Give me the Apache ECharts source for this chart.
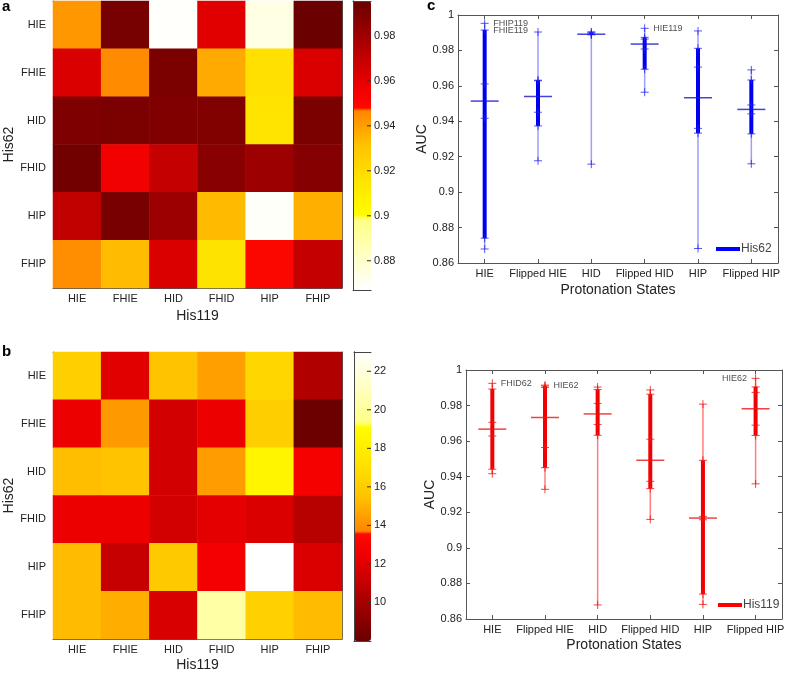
<!DOCTYPE html>
<html><head><meta charset="utf-8">
<script src="https://cdn.jsdelivr.net/npm/echarts@6/dist/echarts.min.js"></script>
<style>html,body{margin:0;padding:0;background:#fff}#chart{width:787px;height:673px}</style>
</head><body><div id="chart"></div>
<script>
// ---------- DATA ----------
const states = ['HIE', 'FHIE', 'HID', 'FHID', 'HIP', 'FHIP'];
const protStates = ['HIE', 'Flipped HIE', 'HID', 'Flipped HID', 'HIP', 'Flipped HIP'];

// Panel a: AUC, rows = His62 state, columns = His119 state (HIE..FHIP)
const auc_HIE62  = [0.9417, 0.9915, 0.8679, 0.9611, 0.8740, 0.9953];
const auc_FHIE62 = [0.9629, 0.9451, 0.9904, 0.9374, 0.9177, 0.9632];
const auc_HID62  = [0.9893, 0.9902, 0.9890, 0.9888, 0.9158, 0.9905];
const auc_FHID62 = [0.9925, 0.9564, 0.9694, 0.9864, 0.9808, 0.9874];
const auc_HIP62  = [0.9706, 0.9910, 0.9812, 0.9333, 0.8682, 0.9360];
const auc_FHIP62 = [0.9442, 0.9329, 0.9633, 0.9160, 0.9492, 0.9690];

// Panel b: rows = His62 state, columns = His119 state
const val_HIE62  = [16.2, 12.0, 15.5, 14.5, 16.5, 10.4];
const val_FHIE62 = [12.4, 14.3, 11.5, 12.4, 16.1, 8.1];
const val_HID62  = [15.4, 15.5, 11.5, 14.4, 18.5, 12.8];
const val_FHID62 = [12.35, 12.35, 11.5, 12.1, 11.8, 10.6];
const val_HIP62  = [15.3, 11.1, 15.8, 12.6, 23.0, 11.8];
const val_FHIP62 = [15.3, 14.9, 11.7, 20.3, 16.3, 15.3];

// colour bar ranges and tick labels
const rangeA = [0.867, 0.9955];
const ticksA = [0.88, 0.9, 0.92, 0.94, 0.96, 0.98];
const rangeB = [8, 23];
const ticksB = [10, 12, 14, 16, 18, 20, 22];
const aucAxis = { min: 0.86, max: 1, step: 0.02 };

// annotations: [row(His62), col(His119), text, side]
const notesC = [[0, 5, 'FHIP119'], [0, 1, 'FHIE119'], [3, 0, 'HIE119']];
const notesD = [[3, 0, 'FHID62', 'right'], [0, 1, 'HIE62', 'right'], [0, 5, 'HIE62', 'left']];

// ---------- BUILD ----------
const aucRows = [auc_HIE62, auc_FHIE62, auc_HID62, auc_FHID62, auc_HIP62, auc_FHIP62];
const valRows = [val_HIE62, val_FHIE62, val_HID62, val_FHID62, val_HIP62, val_FHIP62];
const heatA = [], heatB = [];
aucRows.forEach((r, i) => r.forEach((v, j) => heatA.push([j, i, v])));
valRows.forEach((r, i) => r.forEach((v, j) => heatB.push([j, i, v])));
const boxC = aucRows.map((r, i) => [i].concat(r));
const boxD = states.map((s, j) => [j].concat(aucRows.map(r => r[j])));

// colormap (dark -> white), hot-like segments
const cstops = [[0, [105, 0, 0]], [0.30, [240, 0, 0]], [0.374, [255, 8, 0]], [0.3755, [255, 130, 0]],
  [0.5, [255, 195, 0]], [0.62, [255, 228, 0]], [0.749, [255, 255, 0]], [0.7505, [255, 255, 130]], [1, [255, 255, 255]]];
function cmap(t) {
  for (let k = 1; k < cstops.length; k++) {
    if (t <= cstops[k][0]) {
      const a = cstops[k - 1], b = cstops[k];
      const f = (t - a[0]) / (b[0] - a[0]);
      const c = a[1].map((x, i) => Math.round(x + f * (b[1][i] - x)));
      return 'rgb(' + c.join(',') + ')';
    }
  }
  return 'rgb(255,255,255)';
}
const darkToLight = [];
for (let k = 0; k <= 400; k++) darkToLight.push(cmap(k / 400));
const lightToDark = darkToLight.slice().reverse();

const FONT = '"Liberation Sans", Arial, sans-serif';
const AX = '#555';
const TXT = '#222';

function prctile(sorted, p) {
  const n = sorted.length;
  const pos = n * p / 100 + 0.5;
  if (pos <= 1) return sorted[0];
  if (pos >= n) return sorted[n - 1];
  const lo = Math.floor(pos), f = pos - lo;
  return sorted[lo - 1] + f * (sorted[lo] - sorted[lo - 1]);
}
function boxRender(thick, thin, medCol, markCol) {
  return function (params, api) {
    const x = api.value(0);
    const vals = [];
    for (let k = 1; k <= 6; k++) vals.push(api.value(k));
    const s = vals.slice().sort((a, b) => a - b);
    const P = v => api.coord([x, v]);
    const cx = P(s[0])[0];
    const ch = [];
    ch.push({ type: 'line', shape: { x1: cx, y1: P(s[0])[1], x2: cx, y2: P(s[5])[1] }, style: { stroke: thin, lineWidth: 1.5 } });
    ch.push({ type: 'line', shape: { x1: cx, y1: P(prctile(s, 25))[1], x2: cx, y2: P(prctile(s, 75))[1] }, style: { stroke: thick, lineWidth: 4 } });
    const my = P(prctile(s, 50))[1];
    ch.push({ type: 'line', shape: { x1: cx - 14, y1: my, x2: cx + 14, y2: my }, style: { stroke: medCol, lineWidth: 1.5 } });
    s.forEach(v => {
      const y = P(v)[1];
      ch.push({ type: 'line', shape: { x1: cx - 4, y1: y, x2: cx + 4, y2: y }, style: { stroke: markCol, lineWidth: 1 } });
      ch.push({ type: 'line', shape: { x1: cx, y1: y - 4, x2: cx, y2: y + 4 }, style: { stroke: markCol, lineWidth: 1 } });
    });
    return { type: 'group', children: ch };
  };
}
// colour-bar tick marks at the bar's right edge, pointing inward
function cbTickRender(params, api) {
  const p = api.coord([1, api.value(0)]);
  return { type: 'line', shape: { x1: p[0] - 4, y1: p[1], x2: p[0], y2: p[1] }, style: { stroke: '#333', lineWidth: 1 } };
}

function catX(grid, data, pos, labels, name, gap) {
  return {
    type: 'category', gridIndex: grid, data: data, position: pos,
    axisLine: { show: true, lineStyle: { color: AX, width: 1 } },
    axisTick: { show: true, inside: true, alignWithLabel: true, length: 4, lineStyle: { color: AX } },
    axisLabel: { show: labels, fontSize: 11, color: TXT, fontFamily: FONT, margin: 5, interval: 0 },
    splitLine: { show: false },
    name: name || '', nameLocation: 'middle', nameGap: gap || 0,
    nameTextStyle: { fontSize: 14, color: TXT, fontFamily: FONT }
  };
}
function catY(grid, data, pos, labels, name, gap) {
  return {
    type: 'category', gridIndex: grid, data: data, position: pos, inverse: true,
    axisLine: { show: true, lineStyle: { color: AX, width: 1 } },
    axisTick: { show: true, inside: true, alignWithLabel: true, length: 4, lineStyle: { color: AX } },
    axisLabel: { show: labels, fontSize: 11, color: TXT, fontFamily: FONT, margin: 7, interval: 0 },
    splitLine: { show: false },
    name: name || '', nameLocation: 'middle', nameGap: gap || 0, nameRotate: 90,
    nameTextStyle: { fontSize: 14, color: TXT, fontFamily: FONT }
  };
}
function fmt(v) { return String(parseFloat((+v).toFixed(4))); }
function valY(grid, pos, labels, mn, mx, step, name, gap) {
  return {
    type: 'value', gridIndex: grid, position: pos, min: mn, max: mx, interval: step,
    axisLine: { show: true, lineStyle: { color: AX, width: 1 } },
    axisTick: { show: true, inside: true, length: 4, lineStyle: { color: AX } },
    axisLabel: { show: labels, fontSize: 11, color: TXT, fontFamily: FONT, margin: 4, formatter: fmt, showMinLabel: true, showMaxLabel: true },
    splitLine: { show: false },
    name: name || '', nameLocation: 'middle', nameGap: gap || 0, nameRotate: 90,
    nameTextStyle: { fontSize: 14, color: TXT, fontFamily: FONT }
  };
}
function cbX(grid, pos) {
  return { type: 'value', gridIndex: grid, position: pos, min: 0, max: 1, z: 10,
    axisLine: { show: true, lineStyle: { color: '#444' } }, axisTick: { show: false }, axisLabel: { show: false }, splitLine: { show: false } };
}
function cbYLabels(grid, range, ticks) {
  return { type: 'value', gridIndex: grid, position: 'right', min: range[0], max: range[1], z: 10,
    axisLine: { show: true, lineStyle: { color: '#444' } },
    axisTick: { show: false },
    axisLabel: { show: true, customValues: ticks, fontSize: 11, color: TXT, fontFamily: FONT, margin: 3, formatter: fmt },
    splitLine: { show: false } };
}
function cbYFrame(grid, range) {
  return { type: 'value', gridIndex: grid, position: 'left', min: range[0], max: range[1], z: 10,
    axisLine: { show: true, lineStyle: { color: '#444' } },
    axisTick: { show: false }, axisLabel: { show: false }, splitLine: { show: false } };
}

const grids = [
  { left: 53, top: 1, width: 289, height: 287 },      // 0 heatmap a
  { left: 353, top: 1, width: 18, height: 289 },      // 1 colorbar a
  { left: 53, top: 352, width: 289, height: 289 },    // 2 heatmap b
  { left: 354, top: 352, width: 17, height: 289 },    // 3 colorbar b
  { left: 458, top: 15, width: 320, height: 248 },    // 4 panel c
  { left: 466, top: 370, width: 320, height: 249 }    // 5 panel d
];

const xAxes = [
  catX(0, states, 'bottom', true, 'His119', 21), catX(0, states, 'top', false),
  cbX(1, 'bottom'), cbX(1, 'top'),
  catX(2, states, 'bottom', true, 'His119', 19), catX(2, states, 'top', false),
  cbX(3, 'bottom'), cbX(3, 'top'),
  catX(4, protStates, 'bottom', true, 'Protonation States', 20), catX(4, protStates, 'top', false),
  catX(5, protStates, 'bottom', true, 'Protonation States', 19), catX(5, protStates, 'top', false)
];
const yAxes = [
  catY(0, states, 'left', true, 'His62', 33), catY(0, states, 'right', false),
  cbYLabels(1, rangeA, ticksA), cbYFrame(1, rangeA),
  catY(2, states, 'left', true, 'His62', 33), catY(2, states, 'right', false),
  cbYLabels(3, rangeB, ticksB), cbYFrame(3, rangeB),
  valY(4, 'left', true, aucAxis.min, aucAxis.max, aucAxis.step, 'AUC', 25), valY(4, 'right', false, aucAxis.min, aucAxis.max, aucAxis.step),
  valY(5, 'left', true, aucAxis.min, aucAxis.max, aucAxis.step, 'AUC', 27), valY(5, 'right', false, aucAxis.min, aucAxis.max, aucAxis.step)
];

function noteSeries(notes, xi, byRow) {
  return {
    type: 'scatter', xAxisIndex: xi, yAxisIndex: xi, symbolSize: 1, silent: true,
    itemStyle: { color: 'rgba(0,0,0,0)' }, z: 5,
    data: notes.map(n => ({
      value: [byRow ? n[0] : n[1], aucRows[n[0]][n[1]]],
      label: { show: true, formatter: n[2], position: n[3] || 'right', distance: 8, fontSize: 9, color: '#222', fontFamily: FONT }
    }))
  };
}

const option = {
  backgroundColor: '#fff',
  animation: false,
  grid: grids,
  xAxis: xAxes,
  yAxis: yAxes,
  visualMap: [
    { type: 'continuous', seriesIndex: 0, min: rangeA[0], max: rangeA[1], calculable: false, show: true,
      left: 353, top: 1, itemWidth: 18, itemHeight: 289, padding: 0, text: null, showLabel: false,
      inRange: { color: lightToDark } },
    { type: 'continuous', seriesIndex: 1, min: rangeB[0], max: rangeB[1], calculable: false, show: true,
      left: 354, top: 352, itemWidth: 17, itemHeight: 289, padding: 0, text: null, showLabel: false,
      inRange: { color: darkToLight } }
  ],
  legend: [
    { data: ['His62'], left: 716, top: 243, icon: 'rect', itemWidth: 24, itemHeight: 4, padding: 0, itemGap: 0, selectedMode: false,
      textStyle: { fontSize: 12, color: '#444', fontFamily: FONT, padding: [0, 0, 0, -4] } },
    { data: ['His119'], left: 718, top: 599, icon: 'rect', itemWidth: 24, itemHeight: 4, padding: 0, itemGap: 0, selectedMode: false,
      textStyle: { fontSize: 12, color: '#444', fontFamily: FONT, padding: [0, 0, 0, -4] } }
  ],
  series: [
    { type: 'heatmap', xAxisIndex: 0, yAxisIndex: 0, data: heatA, silent: true },
    { type: 'heatmap', xAxisIndex: 4, yAxisIndex: 4, data: heatB, silent: true },
    { type: 'custom', name: 'His62', xAxisIndex: 8, yAxisIndex: 8, data: boxC, itemStyle: { color: '#0000ff' },
      encode: { x: 0, y: [1, 2, 3, 4, 5, 6] },
      renderItem: boxRender('#0000f0', 'rgba(40,40,255,0.45)', 'rgba(20,20,210,0.8)', 'rgba(30,30,240,0.75)') },
    { type: 'custom', name: 'His119', xAxisIndex: 10, yAxisIndex: 10, data: boxD, itemStyle: { color: '#ff0000' },
      encode: { x: 0, y: [1, 2, 3, 4, 5, 6] },
      renderItem: boxRender('#f00000', 'rgba(255,40,40,0.6)', 'rgba(235,20,20,0.8)', 'rgba(240,20,20,0.8)') },
    noteSeries(notesC, 8, true),
    noteSeries(notesD, 10, false),
    { type: 'custom', xAxisIndex: 2, yAxisIndex: 2, data: ticksA.map(v => [v]), encode: { y: 0 }, z: 20, silent: true, renderItem: cbTickRender },
    { type: 'custom', xAxisIndex: 6, yAxisIndex: 6, data: ticksB.map(v => [v]), encode: { y: 0 }, z: 20, silent: true, renderItem: cbTickRender }
  ],
  graphic: [
    { type: 'text', x: 2, y: 7, style: { text: 'a', font: 'bold 15px ' + FONT, fill: '#000', verticalAlign: 'middle' } },
    { type: 'text', x: 2, y: 352, style: { text: 'b', font: 'bold 15px ' + FONT, fill: '#000', verticalAlign: 'middle' } },
    { type: 'text', x: 427, y: 6, style: { text: 'c', font: 'bold 15px ' + FONT, fill: '#000', verticalAlign: 'middle' } }
  ]
};
const chart = echarts.init(document.getElementById('chart'));
chart.setOption(option);
</script>
</body></html>
